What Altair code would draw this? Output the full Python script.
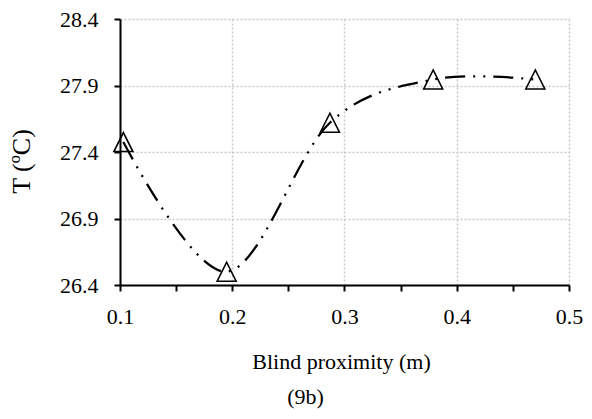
import altair as alt
import pandas as pd

# data
proximity = [0.103, 0.195, 0.287, 0.379, 0.470]
temperature = [27.475, 26.50, 27.62, 27.945, 27.945]

x_ticks = [0.1, 0.15, 0.2, 0.25, 0.3, 0.35, 0.4, 0.45, 0.5]
y_ticks = [26.4, 26.65, 26.9, 27.15, 27.4, 27.65, 27.9, 28.15, 28.4]

df = pd.DataFrame({"x": proximity, "y": temperature})

FONT = "Liberation Serif"

x_enc = alt.X(
    "x:Q",
    scale=alt.Scale(domain=[0.1, 0.5], nice=False, zero=False),
    axis=alt.Axis(
        values=x_ticks,
        format=".1f",
        labelExpr="round(datum.value*100) % 10 == 0 ? datum.label : ''",
        title="Blind proximity (m)",
        titleX=221,
        titleY=83,
        titleBaseline="alphabetic",
        titleAlign="center",
        titleFont=FONT,
        titleFontSize=22,
        labelFont=FONT,
        labelFontSize=22,
        tickSize=6,
        labelPadding=15,
        gridOpacity={"condition": {"test": "round(datum.value*100) % 10 == 0", "value": 1}, "value": 0},
    ),
)
y_enc = alt.Y(
    "y:Q",
    scale=alt.Scale(domain=[26.4, 28.4], nice=False, zero=False),
    axis=alt.Axis(
        values=y_ticks,
        format=".1f",
        labelExpr="round((datum.value-26.4)*100) % 50 == 0 ? datum.label : ''",
        title="T (ºC)",
        titleX=-99,
        titleY=142,
        titleAngle=-90,
        titleAlign="center",
        titleBaseline="middle",
        titleFont=FONT,
        titleFontSize=26,
        labelFont=FONT,
        labelFontSize=22,
        tickSize=6,
        labelPadding=16,
        gridOpacity={"condition": {"test": "round((datum.value-26.4)*100) % 50 == 0", "value": 1}, "value": 0},
    ),
)

line = alt.Chart(df).mark_line(
    interpolate="cardinal",
    color="black",
    strokeWidth=2.25,
    strokeDash=[20, 8, 2, 8, 2, 8],
    strokeCap="butt",
).encode(x=x_enc, y=y_enc)

points = alt.Chart(df).mark_point(
    shape="M-1,1L1,1L0,-1Z",
    size=361,
    filled=False,
    stroke="black",
    strokeWidth=1.6,
    opacity=1,
).encode(x="x:Q", y="y:Q")

chart = (
    alt.layer(line, points)
    .properties(
        width=449,
        height=266,
        padding=8,
        title=alt.TitleParams(
            "(9b)",
            orient="bottom",
            anchor="middle",
            frame="group",
            dx=-39,
            offset=15,
            font=FONT,
            fontSize=22,
            fontWeight="normal",
            color="black",
        ),
    )
    .configure_view(stroke=None)
    .configure_axis(
        labelFont=FONT,
        titleFont=FONT,
        titleFontWeight="normal",
        labelColor="black",
        titleColor="black",
        domainColor="black",
        domainWidth=2,
        tickColor="black",
        tickWidth=2,
        gridColor="#c8c8c8",
        gridDash=[2, 2],
        gridWidth=1.5,
        labelFlush=False,
        labelOverlap=False,
    )
)

chart.save("out.html", embed_options={"renderer": "svg", "actions": False})
